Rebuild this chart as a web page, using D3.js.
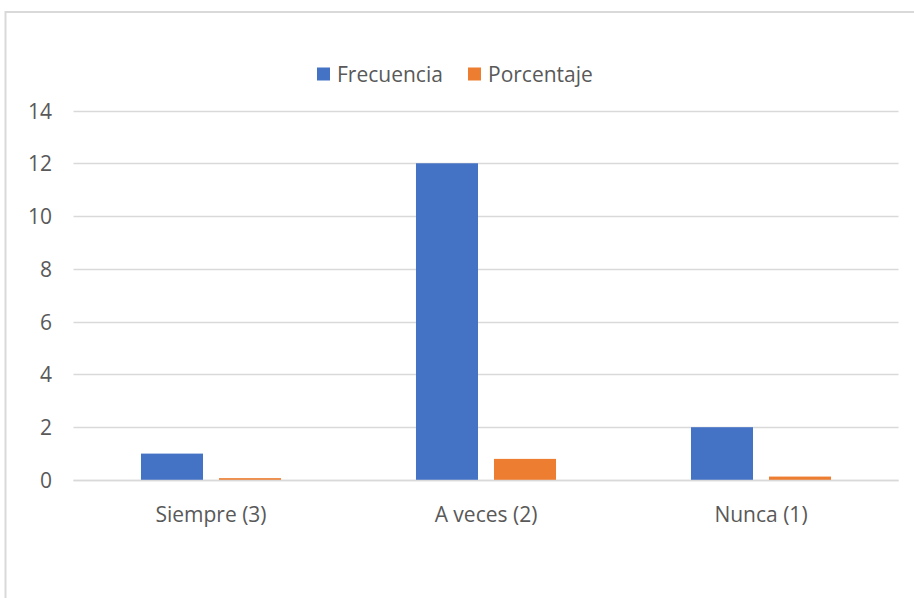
<!DOCTYPE html>
<html>
<head>
<meta charset="utf-8">
<script src="https://cdn.jsdelivr.net/npm/d3@7"></script>
<style>
  html, body { margin: 0; padding: 0; background: #ffffff; }
  svg { display: block; }
  text { font-family: "Open Sans", "Liberation Sans", sans-serif; fill: #595959; }
</style>
</head>
<body>
<svg id="chart" width="914" height="598"></svg>
<script>
const categories = ["Siempre (3)", "A veces (2)", "Nunca (1)"];
const seriesNames = ["Frecuencia", "Porcentaje"];
const frecuencia = [1, 12, 2];
const porcentaje = [0.07, 0.8, 0.13];
const yTicks = [0, 2, 4, 6, 8, 10, 12, 14];
const seriesColors = ["#4472C4", "#ED7D31"];

const seriesValues = [frecuencia, porcentaje];
const data = categories.map((c, i) => ({
  cat: c,
  vals: seriesNames.map((s, j) => ({ series: s, value: seriesValues[j][i], color: seriesColors[j] }))
}));

const svg = d3.select("#chart");

// outer chart border (partially visible)
svg.append("rect")
  .attr("x", 5.5).attr("y", 12).attr("width", 1000).attr("height", 1000)
  .attr("fill", "none").attr("stroke", "#d9d9d9").attr("stroke-width", 2);

const plot = { left: 73.5, right: 898.5, top: 110.5, bottom: 480 };

const x = d3.scaleBand().domain(categories).range([plot.left, plot.right]).padding(0);
const xs = d3.scaleBand().domain(seriesNames).range([0, x.bandwidth()])
  .paddingInner(0.205).paddingOuter(0.865);
const y = d3.scaleLinear().domain([0, 14]).range([plot.bottom, plot.top]);

// gridlines
svg.append("g").selectAll("line").data(yTicks).join("line")
  .attr("x1", plot.left).attr("x2", plot.right)
  .attr("y1", d => Math.round(y(d)) + 0.5).attr("y2", d => Math.round(y(d)) + 0.5)
  .attr("stroke", "#d9d9d9").attr("stroke-width", 1.5);

// y tick labels
svg.append("g").selectAll("text").data(yTicks).join("text")
  .attr("x", 52).attr("y", d => y(d))
  .attr("text-anchor", "end").attr("dominant-baseline", "central")
  .attr("font-size", 21)
  .text(d => d);

// bars
const groups = svg.append("g").selectAll("g").data(data).join("g")
  .attr("transform", d => `translate(${x(d.cat)},0)`);
groups.selectAll("rect").data(d => d.vals).join("rect")
  .attr("x", d => xs(d.series))
  .attr("width", xs.bandwidth())
  .attr("y", d => y(d.value))
  .attr("height", d => y(0) - y(d.value))
  .attr("fill", d => d.color);

// baseline redraw over bars
svg.append("line")
  .attr("x1", plot.left).attr("x2", plot.right)
  .attr("y1", Math.round(y(0)) + 0.5).attr("y2", Math.round(y(0)) + 0.5)
  .attr("stroke", "#d9d9d9").attr("stroke-width", 1.5);

// x labels
svg.append("g").selectAll("text").data(categories).join("text")
  .attr("x", d => x(d) + x.bandwidth() / 2).attr("y", 514)
  .attr("text-anchor", "middle").attr("dominant-baseline", "central")
  .attr("font-size", 21)
  .text(d => d);

// legend
const legendX = [317, 468];
const lg = svg.append("g").selectAll("g").data(seriesNames).join("g")
  .attr("transform", (d, i) => `translate(${legendX[i]},74)`);
lg.append("rect").attr("x", 0).attr("y", -6.5).attr("width", 13).attr("height", 13)
  .attr("fill", (d, i) => seriesColors[i]);
lg.append("text").attr("x", 20).attr("y", 0)
  .attr("dominant-baseline", "central").attr("font-size", 21)
  .text(d => d);
</script>
</body>
</html>
